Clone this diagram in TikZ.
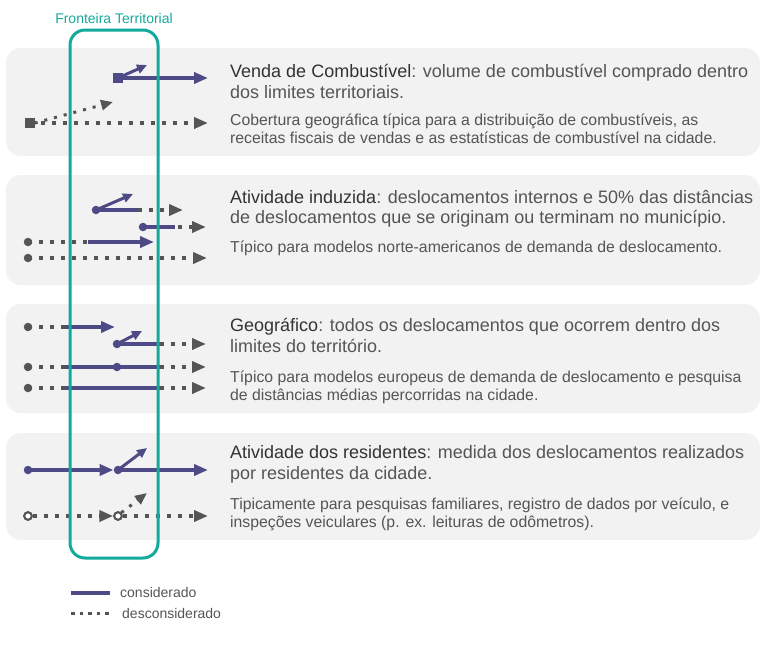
\documentclass[tikz,border=0pt]{standalone}
\usepackage{fontspec}
\setmainfont{Liberation Sans}
\usetikzlibrary{arrows.meta}
\definecolor{panel}{HTML}{F2F2F2}
\definecolor{tealb}{HTML}{13AA9C}
\definecolor{purp}{HTML}{4E4A86}
\definecolor{gry}{HTML}{555555}
\definecolor{ttl}{HTML}{333333}
\definecolor{txt}{HTML}{555555}
\begin{document}
\begin{tikzpicture}[x=1pt,y=-1pt,
  panelbox/.style={fill=panel, rounded corners=15pt},
  cons/.style={draw=purp, line width=3.5pt},
  desc/.style={draw=gry, line width=3.5pt, dash pattern=on 4pt off 7pt},
  tipP/.style={-{Triangle[length=14pt,width=11pt,fill=purp]}},
  tipG/.style={-{Triangle[length=14pt,width=11pt,fill=gry]}},
  small/.style={line width=3pt, -{Triangle[length=10pt,width=9pt]}},
  dotP/.style={circle, fill=purp, inner sep=0pt, minimum size=8.5pt},
  dotG/.style={circle, fill=gry, inner sep=0pt, minimum size=8.5pt},
  openG/.style={circle, fill=white, draw=gry, line width=2pt, inner sep=0pt, minimum size=7.5pt},
  sqP/.style={rectangle, fill=purp, inner sep=0pt, minimum size=10pt},
  sqG/.style={rectangle, fill=gry, inner sep=0pt, minimum size=10pt},
  ttlline/.style={anchor=base west, inner sep=0pt, text=txt, font=\fontsize{18}{21}\selectfont},
  bodyline/.style={anchor=base west, inner sep=0pt, text=txt, font=\fontsize{15.8}{18}\selectfont},
  legline/.style={anchor=base west, inner sep=0pt, text=txt, font=\fontsize{14}{16}\selectfont}
]
\useasboundingbox (0,0) rectangle (780,648);
\fill[white] (0,0) rectangle (780,648);

% panels
\path[panelbox] (6,48) rectangle (760,156);
\path[panelbox] (6,175) rectangle (760,285);
\path[panelbox] (6,304) rectangle (760,413);
\path[panelbox] (6,433) rectangle (760,540);

% ---------- panel 1
\node[sqP] (s1) at (118,78) {};
\coordinate (e1) at (208,78);
\coordinate (u1) at (147,65);
\draw[cons,tipP] (s1.center) -- (e1);
\draw[draw=purp,small,-{Triangle[length=10pt,width=9pt,fill=purp]}] (s1.center) -- (u1);
\node[sqG] (s2) at (29.5,123) {};
\coordinate (e2) at (208,123);
\coordinate (u2) at (113,102);
\draw[desc,tipG] (s2.center) -- (e2);
\draw[draw=gry,line width=3pt,dash pattern=on 3pt off 7pt,-{Triangle[length=12pt,width=10pt,fill=gry]}] (s2.east) -- (u2);

% ---------- panel 2
\node[dotP] (a1) at (96,210) {};
\coordinate (a1m) at (138,210);
\coordinate (a1e) at (183,210);
\coordinate (a1u) at (133,194);
\draw[cons] (a1.center) -- (a1m);
\draw[desc,tipG] (a1m) -- (a1e);
\draw[draw=purp,small,-{Triangle[length=10pt,width=9pt,fill=purp]}] (a1.center) -- (a1u);
\node[dotP] (a2) at (143,227) {};
\coordinate (a2m) at (175,227);
\coordinate (a2e) at (206,227);
\draw[cons] (a2.center) -- (a2m);
\draw[desc,tipG] ([xshift=3pt]a2m) -- (a2e);
\node[dotG] (a3) at (28,242) {};
\coordinate (a3m) at (88,242);
\coordinate (a3e) at (154,242);
\draw[desc] (a3.center) -- (a3m);
\draw[cons,tipP] (a3m) -- (a3e);
\node[dotG] (a4) at (28,258) {};
\coordinate (a4e) at (207,258);
\draw[desc,tipG] (a4.center) -- (a4e);

% ---------- panel 3
\node[dotG] (g1) at (28,327) {};
\coordinate (g1m) at (65,327);
\coordinate (g1e) at (115,327);
\draw[desc] (g1.center) -- (g1m);
\draw[cons,tipP] (g1m) -- (g1e);
\node[dotP] (g2) at (117,344) {};
\coordinate (g2m) at (160,344);
\coordinate (g2e) at (206,344);
\coordinate (g2u) at (142,331);
\draw[cons] (g2.center) -- (g2m);
\draw[desc,tipG] (g2m) -- (g2e);
\draw[draw=purp,small,-{Triangle[length=10pt,width=9pt,fill=purp]}] (g2.center) -- (g2u);
\node[dotG] (g3) at (28,367) {};
\coordinate (g3a) at (65,367);
\coordinate (g3b) at (160,367);
\coordinate (g3e) at (206,367);
\draw[desc] (g3.center) -- (g3a);
\draw[cons] (g3a) -- (g3b);
\draw[desc,tipG] (g3b) -- (g3e);
\node[dotP] (g3c) at (117,367) {};
\node[dotG] (g4) at (28,388) {};
\coordinate (g4a) at (65,388);
\coordinate (g4b) at (160,388);
\coordinate (g4e) at (206,388);
\draw[desc] (g4.center) -- (g4a);
\draw[cons] (g4a) -- (g4b);
\draw[desc,tipG] (g4b) -- (g4e);

% ---------- panel 4
\node[dotP] (r1) at (28,470) {};
\node[dotP] (r2) at (118,470) {};
\coordinate (r2e) at (208,470);
\coordinate (r2u) at (147,448);
\draw[cons,tipP] (r1.center) -- (r2.west);
\draw[cons,tipP] (r2.center) -- (r2e);
\draw[draw=purp,small,-{Triangle[length=10pt,width=9pt,fill=purp]}] (r2.center) -- (r2u);
\node[openG] (o1) at (28,516) {};
\node[openG] (o2) at (118,516) {};
\coordinate (o2e) at (208,516);
\coordinate (o2u) at (147,493);
\draw[desc,tipG] (o1.east) -- (o2.west);
\draw[desc,tipG] (o2.east) -- (o2e);
\draw[draw=gry,line width=3pt,dash pattern=on 3pt off 7pt,-{Triangle[length=12pt,width=10pt,fill=gry]}] (o2.north east) -- (o2u);
\node[openG] at (o1) {};
\node[openG] at (o2) {};

% territorial boundary
\draw[draw=tealb, line width=3pt, rounded corners=15pt] (70,30) rectangle (158,558);
\node[anchor=base, inner sep=0pt, text=tealb, font=\fontsize{14}{16}\selectfont] (lab) at (114,23) {Fronteira Territorial};

% ---------- texts
\node[ttlline] (t1a) at (230,77) {\textcolor{ttl}{Venda de Combustível}: volume de combustível comprado dentro};
\node[ttlline] (t1b) at (230,98) {dos limites territoriais.};
\node[bodyline] (b1a) at (230,125) {Cobertura geográfica típica para a distribuição de combustíveis, as};
\node[bodyline] (b1b) at (230,143) {receitas fiscais de vendas e as estatísticas de combustível na cidade.};

\node[ttlline] (t2a) at (230,203) {\textcolor{ttl}{Atividade induzida}: deslocamentos internos e 50\% das distâncias};
\node[ttlline] (t2b) at (230,223) {de deslocamentos que se originam ou terminam no município.};
\node[bodyline] (b2a) at (230,252) {Típico para modelos norte-americanos de demanda de deslocamento.};

\node[ttlline] (t3a) at (230,331) {\textcolor{ttl}{Geográfico}: todos os deslocamentos que ocorrem dentro dos};
\node[ttlline] (t3b) at (230,352) {limites do território.};
\node[bodyline] (b3a) at (230,382) {Típico para modelos europeus de demanda de deslocamento e pesquisa};
\node[bodyline] (b3b) at (230,400) {de distâncias médias percorridas na cidade.};

\node[ttlline] (t4a) at (230,458) {\textcolor{ttl}{Atividade dos residentes}: medida dos deslocamentos realizados};
\node[ttlline] (t4b) at (230,479) {por residentes da cidade.};
\node[bodyline] (b4a) at (230,509) {Tipicamente para pesquisas familiares, registro de dados por veículo, e};
\node[bodyline] (b4b) at (230,527) {inspeções veiculares (p. ex. leituras de odômetros).};

% ---------- legend
\coordinate (l1a) at (71,593);
\coordinate (l1b) at (110,593);
\draw[cons] (l1a) -- (l1b);
\node[legline] (l1t) at (120,597) {considerado};
\coordinate (l2a) at (71,613);
\coordinate (l2b) at (110,613);
\draw[draw=gry, line width=3pt, dash pattern=on 3.5pt off 5pt] (l2a) -- (l2b);
\node[legline] (l2t) at (122,618) {desconsiderado};
\end{tikzpicture}
\end{document}
